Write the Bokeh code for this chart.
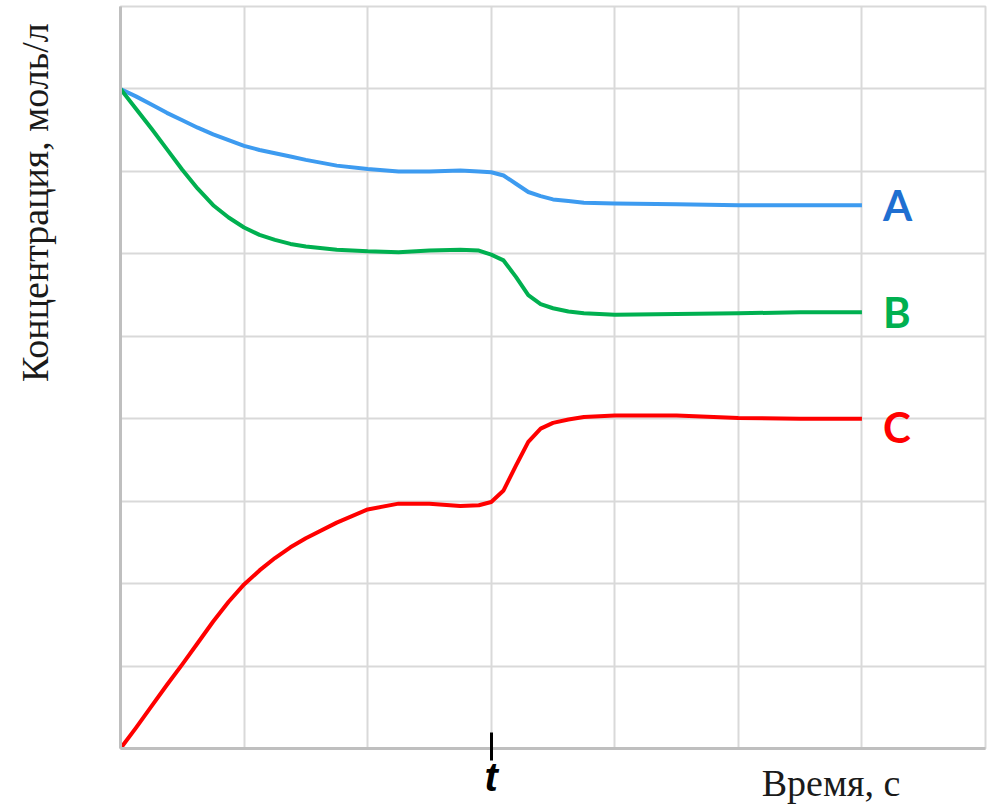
from bokeh.plotting import figure
from bokeh.models import FixedTicker, LinearAxis, ColumnDataSource
from bokeh.core.properties import value
from bokeh.embed import file_html
from bokeh.resources import INLINE

# --- data ---
time_pts = [0, 0.125, 0.25, 0.375, 0.5, 0.625, 0.75, 0.875, 1, 1.125, 1.25, 1.375, 1.5,
            1.75, 2, 2.25, 2.5, 2.75, 2.9, 3, 3.1, 3.2, 3.3, 3.4, 3.5, 3.625, 3.75,
            4, 4.5, 5, 5.5, 6]
conc_A = [8.0, 7.91, 7.81, 7.71, 7.62, 7.53, 7.45, 7.38, 7.31, 7.26, 7.22, 7.18, 7.14,
          7.07, 7.03, 7.00, 7.00, 7.01, 7.00, 6.99, 6.95, 6.85, 6.75, 6.70, 6.66, 6.64, 6.62,
          6.61, 6.60, 6.59, 6.59, 6.59]
conc_B = [8.0, 7.76, 7.52, 7.27, 7.02, 6.79, 6.59, 6.44, 6.32, 6.23, 6.17, 6.12, 6.09,
          6.05, 6.03, 6.02, 6.04, 6.05, 6.04, 5.99, 5.92, 5.72, 5.50, 5.39, 5.34, 5.30, 5.28,
          5.26, 5.27, 5.28, 5.29, 5.29]
conc_C = [0.0, 0.25, 0.51, 0.77, 1.02, 1.28, 1.54, 1.78, 1.99, 2.16, 2.31, 2.44, 2.55,
          2.74, 2.90, 2.97, 2.97, 2.94, 2.95, 2.99, 3.13, 3.43, 3.72, 3.88, 3.95, 3.99, 4.02,
          4.04, 4.04, 4.01, 4.00, 4.00]
series_names = ["A", "B", "C"]
line_colors = ["#3d9bf0", "#00b050", "#ff0000"]
label_colors = ["#1f6fd1", "#00b050", "#ff0000"]
x_grid = [0, 1, 2, 3, 4, 5, 6, 7]
y_grid = [0, 1, 2, 3, 4, 5, 6, 7, 8, 9]
t_tick = 3
x_title = "Время, с"
y_title = "Концентрация, моль/л"

W, H = 995, 808
p = figure(width=W, height=H, x_range=(0, 7), y_range=(0, 9),
           output_backend="svg", toolbar_location=None,
           min_border_left=120, min_border_right=10, min_border_top=6,
           min_border_bottom=60)
p.background_fill_color = "white"
p.border_fill_color = "white"
p.outline_line_color = "#d9d9d9"
p.outline_line_width = 2

p.xgrid.ticker = FixedTicker(ticks=x_grid)
p.ygrid.ticker = FixedTicker(ticks=y_grid)
for g in (p.xgrid, p.ygrid):
    g.grid_line_color = "#d9d9d9"
    g.grid_line_width = 2

# x axis: single tick at t
xa = p.xaxis[0]
xa.ticker = FixedTicker(ticks=[t_tick])
xa.major_label_overrides = {t_tick: "t"}
xa.major_label_text_font = "Liberation Sans"
xa.major_label_text_font_style = "bold italic"
xa.major_label_text_font_size = "40px"
xa.major_label_text_color = "black"
xa.major_label_standoff = -6
xa.major_tick_in = 16
xa.major_tick_out = 12
xa.major_tick_line_color = "black"
xa.major_tick_line_width = 3
xa.minor_tick_line_color = None
xa.axis_line_color = "#bfbfbf"
xa.axis_line_width = 3

ya = p.yaxis[0]
ya.ticker = FixedTicker(ticks=[])
ya.major_label_text_font_size = "0px"
ya.major_label_standoff = 0
ya.major_tick_in = 0
ya.major_tick_out = 0
ya.major_tick_line_color = None
ya.minor_tick_line_color = None
ya.axis_line_color = "#bfbfbf"
ya.axis_line_width = 3


def title_axis(loc, text, standoff, orientation):
    return LinearAxis(ticker=FixedTicker(ticks=[loc]),
                      major_label_overrides={loc: text},
                      major_label_orientation=orientation,
                      axis_line_color=None, major_tick_line_color=None,
                      minor_tick_line_color=None, major_tick_in=0, major_tick_out=0,
                      minor_tick_in=0, minor_tick_out=0,
                      major_label_standoff=standoff,
                      major_label_text_font="Liberation Serif",
                      major_label_text_font_style="normal",
                      major_label_text_font_size="38px",
                      major_label_text_color="#1a1a1a")


# axis titles placed where the reference shows them
p.add_layout(title_axis(6.62, y_title, 64, "vertical"), "left")
p.add_layout(title_axis(5.75, x_title, -40, "horizontal"), "below")

for conc, col in zip([conc_A, conc_B, conc_C], line_colors):
    p.line(time_pts, conc, line_color=col, line_width=4, line_join="round")

lab_src = ColumnDataSource(dict(
    x=[time_pts[-1] + 0.17] * 3,
    y=[conc_A[-1], conc_B[-1], conc_C[-1] - 0.1],
    text=series_names,
    color=label_colors,
))
p.text(x="x", y="y", text="text", text_color="color", source=lab_src,
       text_font=value("Lato"), text_font_style="bold", text_font_size="42px",
       text_align="left", text_baseline="middle")

open("out.html", "w").write(file_html(p, INLINE))
